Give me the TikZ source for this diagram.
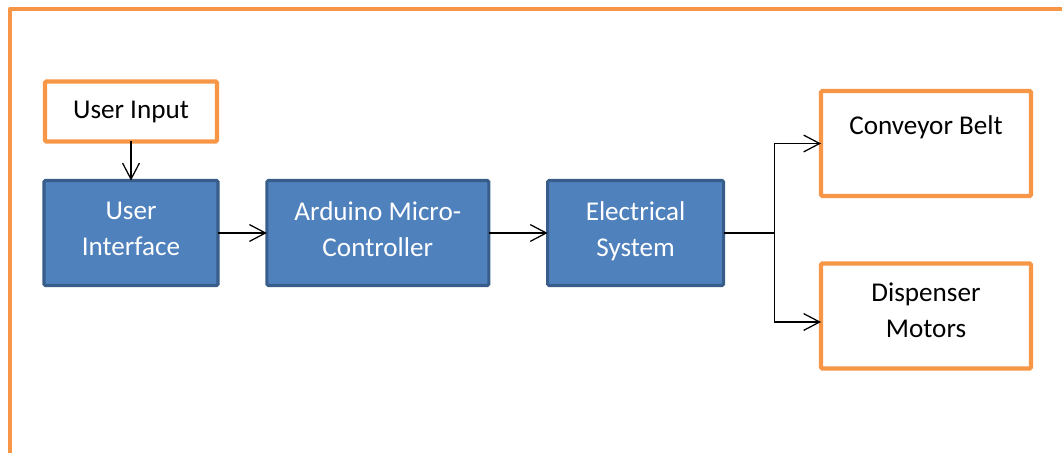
\documentclass[tikz,border=0pt]{standalone}
\usepackage{fontspec}
\setmainfont{Carlito}
\usepackage{tikz}
\usetikzlibrary{positioning,arrows.meta,calc}
\definecolor{officeblue}{RGB}{79,129,189}
\definecolor{officeblueline}{RGB}{56,93,138}
\definecolor{officeorange}{RGB}{247,150,70}
\tikzset{
  box/.style={thick, minimum height=2.625cm, align=center,
              font=\fontsize{19.3}{26}\selectfont, outer sep=0pt},
  bluebox/.style={box, draw=officeblueline, line width=2.2pt, fill=officeblue,
                  text=white, rounded corners=1pt, text depth=0.2cm},
  orangebox/.style={box, draw=officeorange, line width=3pt, fill=white,
                    rounded corners=1pt},
  arrow/.style={-{Straight Barb[length=4mm, width=4.2mm]}, line width=0.9pt},
  frameline/.style={draw=officeorange, line width=3pt, line join=round},
}
\begin{document}
\begin{tikzpicture}[node distance=1cm and 1.2cm]
  \useasboundingbox (0,0) rectangle (26.55,-11.325);
  % Frame
  \draw[frameline] (0.25,-12) -- (0.25,-0.225) -- (27.5,-0.225);

  % Main chain
  \node[orangebox, minimum width=4.3cm, minimum height=1.5cm] (UIn) at (3.275,-2.7875) {User Input};
  \node[bluebox, minimum width=4.35cm, below=0.975cm of UIn] (UI) {User\\Interface};
  \node[bluebox, minimum width=5.55cm, right=1.22cm of UI] (AMC) {Arduino Micro-\\Controller};
  \node[bluebox, minimum width=4.4cm, right=1.47cm of AMC] (ES) {Electrical\\System};

  \draw[arrow] (UIn) -- (UI);
  \draw[arrow] (UI) -- (AMC);
  \draw[arrow] (AMC) -- (ES);

  % Outputs
  \node[orangebox, minimum width=5.25cm, text depth=0.9cm] (CB) at (23.15,-3.5875) {Conveyor Belt};
  \node[orangebox, minimum width=5.25cm, text depth=0.3cm] (DM) at (23.15,-7.9) {Dispenser\\Motors};

  \coordinate[right=1.275cm of ES.east] (jn);
  \draw[line width=0.9pt] (ES.east) -- (jn);
  \draw[arrow] (jn) |- (CB.west);
  \draw[arrow] (jn) |- ([yshift=-0.15cm]DM.west);
\end{tikzpicture}
\end{document}
